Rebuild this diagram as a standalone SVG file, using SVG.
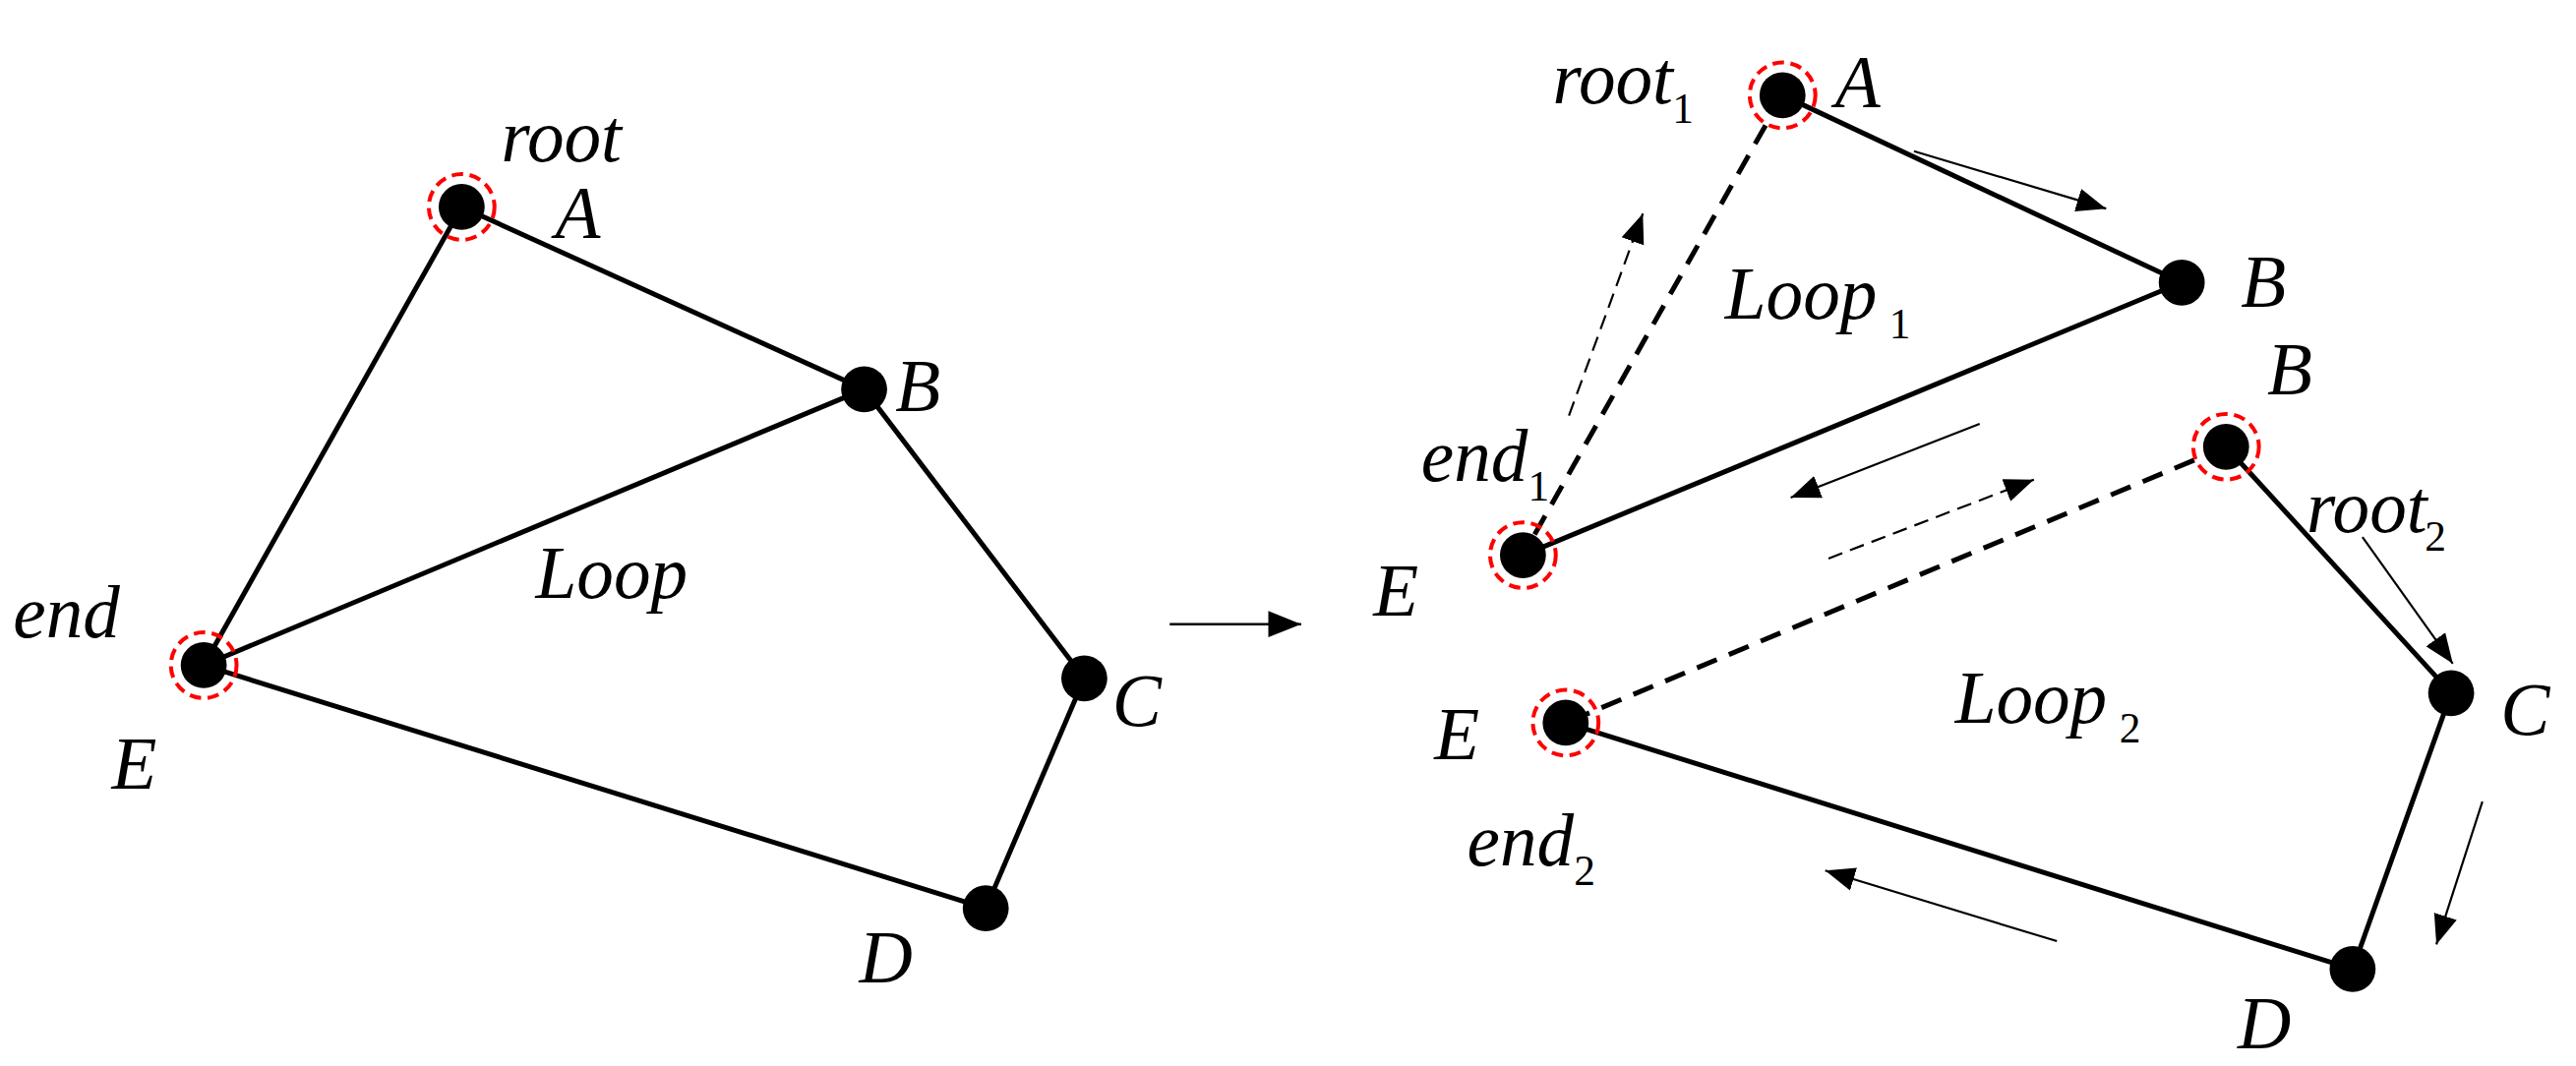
<svg xmlns="http://www.w3.org/2000/svg" width="2619" height="1084" viewBox="0 0 2619 1084">
<style>
.e{stroke:#000;stroke-width:3;fill:none}
.d{stroke:#000;stroke-width:3;fill:none;stroke-dasharray:13 8}
.a{stroke:#000;stroke-width:1.3;fill:none;marker-end:url(#ah)}
.ad{stroke:#000;stroke-width:1.3;fill:none;stroke-dasharray:9 5;marker-end:url(#ah)}
.n{fill:#000}
.r{fill:none;stroke:#f00;stroke-width:2.4;stroke-dasharray:7 4}
text{font-family:"Liberation Serif",serif;font-style:italic;font-size:45px;fill:#000}
.s{font-size:26px;font-style:normal}
</style>
<defs>
<marker id="ah" viewBox="0 0 10 10" refX="10" refY="5" markerWidth="18" markerHeight="18" markerUnits="userSpaceOnUse" orient="auto"><path d="M0,1L10,5L0,9z" fill="#000"/></marker>
<marker id="ah2" viewBox="0 0 10 10" refX="10" refY="5" markerWidth="20" markerHeight="20" markerUnits="userSpaceOnUse" orient="auto"><path d="M0,1L10,5L0,9z" fill="#000"/></marker>
</defs>
<rect width="2619" height="1084" fill="#fff"/>
<g transform="scale(1.6703)">
<g id="connectors">
<line class="e" x1="281" y1="126" x2="526" y2="237"/>
<line class="e" x1="281" y1="126" x2="124" y2="405"/>
<line class="e" x1="124" y1="405" x2="526" y2="237"/>
<line class="e" x1="526" y1="237" x2="660" y2="413"/>
<line class="e" x1="660" y1="413" x2="600" y2="553"/>
<line class="e" x1="124" y1="405" x2="600" y2="553"/>
<line stroke="#000" stroke-width="1.6" x1="712" y1="380" x2="792" y2="380" marker-end="url(#ah2)"/>
<line class="e" x1="1085" y1="58" x2="1328" y2="172"/>
<line class="e" x1="927" y1="338" x2="1328" y2="172"/>
<line class="d" x1="1085" y1="58" x2="927" y2="338"/>
<line class="d" x1="1355" y1="272" x2="953" y2="440"/>
<line class="e" x1="1355" y1="272" x2="1492" y2="422"/>
<line class="e" x1="1492" y1="422" x2="1432" y2="590"/>
<line class="e" x1="953" y1="440" x2="1432" y2="590"/>
<line class="a" x1="1165" y1="92" x2="1282" y2="127"/>
<line class="ad" x1="955" y1="253" x2="1000" y2="130"/>
<line class="a" x1="1205" y1="258" x2="1090" y2="303"/>
<line class="ad" x1="1113" y1="340" x2="1238" y2="292"/>
<line class="a" x1="1438" y1="327" x2="1493" y2="404"/>
<line class="a" x1="1511" y1="488" x2="1483" y2="575"/>
<line class="a" x1="1252" y1="573" x2="1111" y2="530"/>
</g>
<g id="nA"><circle class="r" cx="281" cy="126" r="20"/><circle class="n" cx="281" cy="126" r="14"/><text x="305" y="98">root</text><text x="338" y="145">A</text></g>
<g id="nB"><circle class="n" cx="526" cy="237" r="14"/><text x="545" y="250">B</text></g>
<g id="nC"><circle class="n" cx="660" cy="413" r="14"/><text x="677" y="442">C</text></g>
<g id="nD"><circle class="n" cx="600" cy="553" r="14"/><text x="523" y="598">D</text></g>
<g id="nE"><circle class="r" cx="124" cy="405" r="20"/><circle class="n" cx="124" cy="405" r="14"/><text x="8" y="388">end</text><text x="68" y="480">E</text></g>
<text x="326" y="364">Loop</text>
<g id="rA"><circle class="r" cx="1085" cy="58" r="20"/><circle class="n" cx="1085" cy="58" r="14"/><text x="945" y="63">root</text><text class="s" x="1018" y="75">1</text><text x="1117" y="65">A</text></g>
<g id="rB1"><circle class="n" cx="1328" cy="172" r="14"/><text x="1364" y="187">B</text></g>
<g id="rE1"><circle class="r" cx="927" cy="338" r="20"/><circle class="n" cx="927" cy="338" r="14"/><text x="865" y="293">end</text><text class="s" x="930" y="305">1</text><text x="836" y="375">E</text></g>
<text x="1050" y="194">Loop</text><text class="s" x="1150" y="206">1</text>
<g id="rB2"><circle class="r" cx="1355" cy="272" r="20"/><circle class="n" cx="1355" cy="272" r="14"/><text x="1380" y="240">B</text><text x="1404" y="324">root</text><text class="s" x="1476" y="335">2</text></g>
<g id="rC"><circle class="n" cx="1492" cy="422" r="14"/><text x="1522" y="447">C</text></g>
<g id="rD"><circle class="n" cx="1432" cy="590" r="14"/><text x="1362" y="638">D</text></g>
<g id="rE2"><circle class="r" cx="953" cy="440" r="20"/><circle class="n" cx="953" cy="440" r="14"/><text x="873" y="462">E</text><text x="893" y="527">end</text><text class="s" x="958" y="539">2</text></g>
<text x="1190" y="440">Loop</text><text class="s" x="1290" y="452">2</text>
</g>
</svg>
